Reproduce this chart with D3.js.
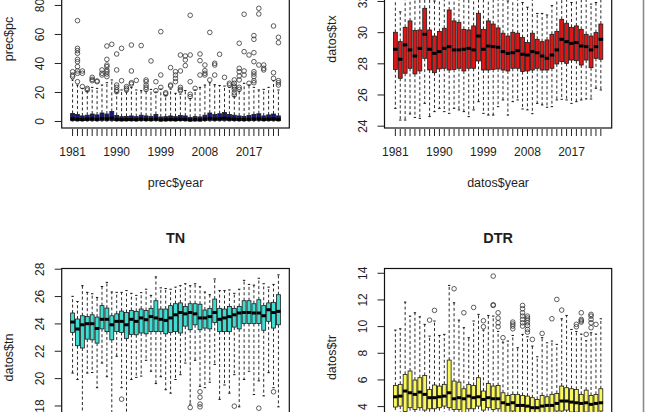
<!DOCTYPE html>
<html>
<head>
<meta charset="utf-8">
<script src="https://cdnjs.cloudflare.com/ajax/libs/d3/7.8.5/d3.min.js"></script>
<style>
	html, body { margin: 0; padding: 0; background: #fff; }
	svg { display: block; }
	text { font-family: "Liberation Sans", Arial, sans-serif; fill: #1e1e1e; }
</style>
</head>
<body>
<div class="graphic"></div>
<script>

var years = [1981, 1982, 1983, 1984, 1985, 1986, 1987, 1988, 1989, 1990,
	1991, 1992, 1993, 1994, 1995, 1996, 1997, 1998, 1999, 2000,
	2001, 2002, 2003, 2004, 2005, 2006, 2007, 2008, 2009, 2010,
	2011, 2012, 2013, 2014, 2015, 2016, 2017, 2018, 2019, 2020,
	2021, 2022, 2023];
var yearLabels = [1981, 1990, 1999, 2008, 2017];

// each row: lower whisker, Q1, median, Q3, upper whisker
var pcStats = [
	[0, 0.3, 1.5, 5.2, 28.3], [0, 0.2, 1.2, 4.5, 24.8], [0, 0.2, 1.0, 3.5, 22.5], [0, 0.3, 1.3, 4.0, 20.5],
	[0, 0.3, 1.5, 4.8, 23.2], [0, 0.2, 1.2, 4.2, 22.5], [0, 0.4, 1.8, 5.5, 24.8], [0, 0.3, 1.5, 4.8, 26.4],
	[0, 0.4, 2.0, 6.5, 28.3], [0, 0.2, 1.0, 3.8, 19.5], [0, 0.2, 0.9, 3.0, 21.4], [0, 0.2, 1.0, 3.2, 20.0],
	[0, 0.2, 1.1, 3.5, 23.2], [0, 0.2, 0.9, 3.0, 21.4], [0, 0.3, 1.3, 4.0, 20.9], [0, 0.2, 1.1, 3.5, 20.5],
	[0, 0.2, 1.0, 3.2, 21.8], [0, 0.3, 1.4, 4.5, 20.0], [0, 0.1, 0.8, 2.8, 22.0], [0, 0.2, 0.9, 3.0, 17.5],
	[0, 0.2, 1.1, 3.5, 22.0], [0, 0.2, 0.9, 3.0, 19.1], [0, 0.3, 1.2, 3.8, 18.5], [0, 0.2, 1.1, 3.5, 21.0],
	[0, 0.1, 0.7, 2.5, 15.5], [0, 0.2, 0.9, 3.0, 21.4], [0, 0.1, 0.8, 2.8, 23.2], [0, 0.3, 1.3, 4.0, 24.8],
	[0, 0.4, 1.8, 5.5, 26.4], [0, 0.3, 1.4, 4.5, 25.0], [0, 0.3, 1.6, 5.0, 24.5], [0, 0.4, 1.9, 5.8, 24.1],
	[0, 0.3, 1.4, 4.5, 23.2], [0, 0.3, 1.3, 4.0, 17.0], [0, 0.2, 1.1, 3.5, 20.5], [0, 0.2, 1.0, 3.2, 26.0],
	[0, 0.3, 1.2, 3.8, 24.8], [0, 0.3, 1.4, 4.5, 23.2], [0, 0.3, 1.6, 5.0, 21.4], [0, 0.2, 1.1, 3.5, 21.8],
	[0, 0.3, 1.3, 4.2, 23.2], [0, 0.3, 1.5, 4.8, 27.8], [0, 0.2, 1.1, 3.5, 21.4]
];
var pcOutliers = [
	[34.0, 31.7, 30.6], [69.2, 50.1, 48.5, 46.7, 42.5, 40.9, 37.5, 34.5, 32.9, 27.1], [34.5, 32.9, 23.7], [22.5, 21.4],
	[30.1, 28.7, 27.8], [27.6, 27.1], [35.2, 32.9, 31.7], [51.7, 42.5, 38.6, 37.5, 35.2, 34.0, 32.4, 30.6],
	[52.9], [46.2, 35.2, 24.8, 23.2, 21.4, 20.2], [50.1, 27.8], [23.7, 22.5, 21.4],
	[52.4, 34.5, 26.4, 25.5], [28.0], [52.0], [28.3, 27.1, 24.8, 23.2, 21.8],
	[41.4], [27.1, 20.9], [61.6, 31.7, 23.2], [19.5, 18.6],
	[36.8, 24.8, 24.1], [34.0, 31.7, 29.4, 27.1], [45.5, 34.5, 23.2, 21.8, 20.9], [44.8, 42.1, 38.2],
	[72.9, 45.5, 27.1, 18.4, 16.8], [22.5], [46.2, 41.6, 31.7], [38.6, 34.7, 32.9, 31.7],
	[61.1, 28.3], [39.8, 38.6, 31.7], [46.0], [30.1],
	[26.0, 24.8], [28.3, 26.0, 24.1, 23.2, 21.8, 19.5, 17.9], [53.6, 36.3, 34.0, 31.0, 28.3, 23.2, 21.8], [73.6, 47.8, 34.5, 31.7],
	[45.5, 26.0], [58.9, 56.3, 47.1, 40.9, 34.0, 32.4, 30.6, 27.8, 26.4], [77.7, 73.8, 38.6], [38.6, 36.3, 35.2],
	[], [65.5, 33.3, 29.4], [57.7, 54.0, 27.8, 26.4, 24.8]
];
var pcTicks = [0, 20, 40, 60, 80];

var txStats = [
	[25.11, 27.61, 28.90, 29.99, 32.6], [24.36, 27.04, 28.26, 29.39, 31.3], [24.36, 27.36, 29.18, 30.31, 32.5], [24.75, 27.68, 28.86, 30.72, 32.8],
	[24.53, 27.32, 28.47, 30.10, 32.4], [24.47, 27.51, 28.96, 30.14, 32.6], [25.43, 28.32, 29.86, 31.53, 33.5], [24.58, 27.57, 28.90, 30.14, 32.5],
	[24.90, 27.40, 28.64, 29.75, 32.0], [25.11, 27.64, 28.75, 30.04, 32.2], [24.90, 27.68, 28.96, 30.25, 32.6], [24.79, 27.57, 29.07, 31.42, 33.8],
	[25.11, 27.61, 28.86, 30.72, 32.9], [25.01, 27.68, 28.86, 30.63, 32.7], [24.90, 27.51, 28.90, 30.18, 32.4], [24.58, 27.68, 28.96, 30.14, 32.3],
	[25.01, 27.68, 28.86, 30.40, 32.5], [25.54, 28.15, 29.75, 31.21, 33.4], [24.79, 27.57, 28.90, 30.18, 32.3], [24.68, 27.57, 29.11, 30.72, 32.6],
	[24.68, 27.61, 29.07, 30.52, 32.5], [25.22, 27.64, 29.03, 30.27, 32.8], [25.65, 27.57, 28.75, 29.93, 32.3], [24.68, 27.51, 28.64, 29.75, 32.0],
	[25.54, 27.68, 28.68, 29.99, 32.2], [25.65, 27.68, 28.81, 29.93, 32.4], [25.07, 27.47, 28.58, 29.65, 31.9], [25.01, 27.51, 28.53, 29.33, 31.6],
	[24.77, 27.57, 28.75, 29.93, 32.1], [25.43, 27.68, 28.68, 29.54, 31.2], [25.33, 27.57, 28.47, 29.39, 31.2], [25.18, 27.57, 28.32, 29.50, 31.1],
	[25.22, 27.68, 28.53, 29.86, 31.7], [25.65, 27.96, 28.86, 30.04, 32.3], [25.69, 28.11, 29.54, 30.82, 32.8], [25.65, 28.00, 29.39, 30.57, 32.9],
	[25.43, 28.21, 29.28, 30.31, 31.9], [25.54, 28.17, 29.33, 30.40, 32.5], [25.65, 27.89, 29.11, 30.18, 32.7], [25.71, 28.21, 29.07, 29.86, 32.4],
	[25.71, 27.72, 28.86, 29.75, 31.8], [26.40, 28.32, 29.07, 29.97, 31.9], [26.29, 28.26, 29.54, 30.52, 32.6]
];
var txTicks = [24, 26, 28, 30, 32];

var tnStats = [
	[20.37, 23.34, 24.10, 24.76, 25.98], [19.90, 22.37, 23.59, 24.32, 25.60], [17.20, 22.20, 23.90, 24.56, 26.76], [20.37, 22.85, 23.98, 24.50, 26.27],
	[20.41, 22.80, 23.98, 24.63, 26.17], [19.30, 22.56, 23.63, 24.46, 25.90], [21.10, 23.60, 24.30, 25.30, 26.70], [20.10, 23.40, 24.30, 25.12, 27.00],
	[17.00, 22.80, 23.90, 24.56, 26.30], [21.60, 23.40, 24.15, 24.70, 26.27], [19.30, 23.34, 24.15, 24.90, 26.27], [17.00, 22.90, 23.90, 24.80, 26.40],
	[19.90, 23.20, 24.30, 24.95, 26.20], [20.05, 23.17, 24.15, 24.88, 26.05], [20.15, 23.30, 24.40, 25.05, 26.25], [21.30, 23.24, 24.27, 24.95, 26.50],
	[20.50, 23.40, 24.50, 25.10, 26.05], [19.60, 23.40, 24.40, 25.66, 27.40], [20.10, 23.40, 24.30, 25.05, 26.60], [19.15, 23.24, 24.22, 25.05, 26.55],
	[18.90, 23.34, 24.40, 25.30, 26.50], [19.90, 23.40, 24.63, 25.44, 26.65], [20.25, 23.30, 24.80, 25.50, 26.76], [21.10, 23.80, 24.70, 25.24, 26.90],
	[18.10, 23.54, 24.80, 25.44, 26.76], [21.30, 23.90, 24.70, 25.44, 26.90], [19.40, 23.54, 24.40, 25.40, 26.68], [19.30, 23.66, 24.40, 24.98, 26.30],
	[19.70, 23.60, 24.50, 25.10, 26.10], [21.00, 24.07, 24.80, 25.78, 27.25], [18.45, 23.40, 24.30, 25.10, 26.40], [19.50, 23.40, 24.40, 25.05, 26.40],
	[18.90, 23.40, 24.50, 25.24, 26.45], [20.25, 23.73, 24.63, 25.10, 26.20], [17.90, 23.60, 24.76, 25.24, 26.50], [19.90, 24.00, 24.80, 25.66, 27.15],
	[20.50, 24.00, 24.80, 25.66, 26.85], [18.80, 23.98, 24.76, 25.44, 26.80], [19.80, 24.00, 24.76, 25.73, 27.30], [18.70, 23.50, 24.56, 25.30, 26.90],
	[20.40, 24.15, 25.00, 25.50, 26.65], [19.30, 23.66, 24.80, 25.54, 26.85], [17.90, 23.90, 24.88, 26.10, 27.55]
];
var tnOutliers = [
	[], [], [], [], [], [], [], [], [], [], [18.46], [], [], [], [], [], [], [], [], [], [], [], [], [],
	[17.85], [], [19.0, 18.6, 18.1, 17.9], [], [], [], [], [], [], [17.95], [], [], [], [], [17.8], [], [], [19.0], []
];
var tnTicks = [18, 20, 22, 24, 26, 28];

var trStats = [
	[2.2, 3.93, 4.70, 5.55, 9.70], [2.4, 4.00, 4.75, 5.63, 9.80], [2.0, 3.60, 5.13, 6.38, 11.80], [2.1, 3.88, 5.00, 6.63, 10.75],
	[2.0, 3.75, 4.88, 5.95, 11.00], [2.3, 3.88, 5.05, 6.13, 10.70], [1.9, 3.70, 4.88, 6.30, 10.13], [2.2, 3.80, 4.63, 5.25, 9.25],
	[2.0, 3.80, 4.63, 5.58, 10.38], [2.3, 3.88, 4.70, 5.50, 9.30], [2.4, 4.00, 4.75, 5.63, 9.38], [2.1, 3.88, 5.00, 7.45, 13.05],
	[2.0, 3.75, 4.55, 5.88, 11.75], [2.2, 3.75, 4.63, 5.80, 10.45], [1.8, 3.50, 4.55, 5.30, 9.88], [2.3, 3.80, 4.75, 5.63, 9.13],
	[2.0, 3.80, 4.63, 5.55, 10.38], [2.4, 4.00, 4.70, 6.13, 10.88], [1.9, 3.70, 4.50, 5.13, 9.70], [2.2, 3.88, 4.63, 5.70, 10.80],
	[2.0, 3.75, 4.55, 5.50, 10.75], [2.1, 3.80, 4.55, 5.55, 9.60], [1.8, 3.50, 4.25, 5.00, 8.80], [1.7, 3.40, 4.13, 4.80, 8.88],
	[2.0, 3.63, 4.25, 4.88, 9.30], [1.8, 3.50, 4.05, 4.88, 8.38], [1.7, 3.50, 4.05, 4.80, 9.38], [1.8, 3.50, 4.00, 4.75, 9.20],
	[2.0, 3.50, 3.88, 4.63, 8.50], [1.9, 3.50, 3.88, 4.50, 7.70], [1.8, 3.50, 4.00, 4.80, 9.13], [1.9, 3.50, 4.05, 4.70, 8.75],
	[1.8, 3.50, 4.05, 4.88, 8.88], [2.0, 3.63, 4.20, 4.95, 8.63], [2.2, 3.63, 4.38, 5.50, 10.55], [2.1, 3.70, 4.38, 5.38, 10.80],
	[1.9, 3.55, 4.30, 5.30, 9.75], [2.0, 3.55, 4.25, 5.25, 9.60], [1.8, 3.50, 4.20, 4.88, 9.40], [2.0, 3.55, 4.25, 5.20, 8.90],
	[1.8, 3.50, 4.13, 4.80, 9.50], [1.9, 3.50, 4.20, 4.88, 9.40], [2.0, 3.63, 4.25, 5.30, 10.55]
];
var trOutliers = [
	[], [], [], [], [], [], [], [10.45], [11.18], [], [], [], [12.8], [], [11.0], [], [11.4], [], [10.4, 9.95], [],
	[13.75, 11.6, 11.55], [11.0, 10.6, 10.25, 9.95], [9.13], [], [10.3, 10.15, 10.0, 9.8], [],
	[11.55, 11.3, 11.0, 10.75, 10.5, 10.25, 10.0], [10.75, 10.6, 10.45, 10.25, 10.05, 9.75, 9.55],
	[9.0], [], [9.45], [], [10.55], [12.0], [11.2], [], [], [10.13, 9.95], [11.0, 10.5, 10.4, 10.3], [9.38],
	[10.88, 10.75, 10.5, 10.25, 9.88], [10.13], []
];
var trTicks = [4, 6, 8, 10, 12, 14];

var width = 645, height = 412;
var svg = d3.select('.graphic').append('svg').attr('width', width).attr('height', height);

// panel geometry; the picture is a crop, so parts of the frames run past its edges
var panels = [
	{ stats: pcStats, out: pcOutliers, ticks: pcTicks, fill: '#17178a', xLabel: 'prec$year', yLabel: 'prec$pc', title: '',
		left: 61.7, right: 289.3, top: -50, bottom: 128, usr: [-4.83, 117.9] },
	{ stats: txStats, out: null, ticks: txTicks, fill: '#dc1717', xLabel: 'datos$year', yLabel: 'datos$tx', title: '',
		left: 384.5, right: 611.7, top: -50, bottom: 128, usr: [23.85, 35.27] },
	{ stats: tnStats, out: tnOutliers, ticks: tnTicks, fill: '#3fdcd2', xLabel: '', yLabel: 'datos$tn', title: 'TN',
		left: 61.7, right: 289.3, top: 268.5, bottom: 446.5, usr: [15.0, 28.015] },
	{ stats: trStats, out: trOutliers, ticks: trTicks, fill: '#f8f75c', xLabel: '', yLabel: 'datos$tr', title: 'DTR',
		left: 384.5, right: 611.7, top: 268.5, bottom: 446.5, usr: [0.97, 14.32] }
];

panels.forEach(function (p) {

	var x = d3.scaleBand().domain(years).range([p.left, p.right]).paddingInner(0.2).paddingOuter(1.82);
	var y = d3.scaleLinear().domain(p.usr).range([p.bottom, p.top]);
	var bw = x.bandwidth();
	var cx = function (d, i) { return x(years[i]) + bw / 2; };

	var g = svg.append('g');

	var boxes = g.selectAll('.box')
		.data(p.stats)
		.enter().append('g')
		.attr('class', 'box');

	// dashed whiskers
	boxes.append('line')
		.attr('x1', cx).attr('x2', cx)
		.attr('y1', function (d) { return y(d[3]); })
		.attr('y2', function (d) { return y(d[4]); })
		.attr('stroke', '#111').attr('stroke-width', 0.9)
		.attr('stroke-dasharray', '3,2.4');
	boxes.append('line')
		.attr('x1', cx).attr('x2', cx)
		.attr('y1', function (d) { return y(d[1]); })
		.attr('y2', function (d) { return y(d[0]); })
		.attr('stroke', '#111').attr('stroke-width', 0.9)
		.attr('stroke-dasharray', '3,2.4');

	// staples
	[0, 4].forEach(function (k) {
		boxes.append('line')
			.attr('x1', function (d, i) { return cx(d, i) - bw * 0.3; })
			.attr('x2', function (d, i) { return cx(d, i) + bw * 0.3; })
			.attr('y1', function (d) { return y(d[k]); })
			.attr('y2', function (d) { return y(d[k]); })
			.attr('stroke', '#111').attr('stroke-width', 1);
	});

	boxes.append('rect')
		.attr('x', function (d, i) { return x(years[i]); })
		.attr('width', bw)
		.attr('y', function (d) { return y(d[3]); })
		.attr('height', function (d) { return y(d[1]) - y(d[3]); })
		.attr('fill', p.fill)
		.attr('stroke', '#1a1a1a')
		.attr('stroke-width', 0.8);

	// median
	boxes.append('line')
		.attr('x1', function (d, i) { return x(years[i]) - 0.3; })
		.attr('x2', function (d, i) { return x(years[i]) + bw + 0.3; })
		.attr('y1', function (d) { return y(d[2]); })
		.attr('y2', function (d) { return y(d[2]); })
		.attr('stroke', '#000').attr('stroke-width', 3);

	if (p.out) {
		var points = [];
		p.out.forEach(function (vals, i) {
			vals.forEach(function (v) { points.push({ year: years[i], v: v }); });
		});
		g.selectAll('.outlier')
			.data(points)
			.enter().append('circle')
			.attr('class', 'outlier')
			.attr('cx', function (d) { return x(d.year) + bw / 2; })
			.attr('cy', function (d) { return y(d.v); })
			.attr('r', 2.3)
			.attr('fill', 'none')
			.attr('stroke', '#333')
			.attr('stroke-width', 0.8);
	}

	// frame
	g.append('rect')
		.attr('x', p.left).attr('y', p.top)
		.attr('width', p.right - p.left).attr('height', p.bottom - p.top)
		.attr('fill', 'none').attr('stroke', '#111').attr('stroke-width', 1.2);

	// x axis only where it falls inside the picture
	if (p.bottom < height) {
		var xAxis = g.append('g')
			.attr('transform', 'translate(0,' + (p.bottom + 1) + ')')
			.call(d3.axisBottom(x).tickSize(7).tickPadding(11.5).tickFormat(function (d) {
				return yearLabels.indexOf(d) >= 0 ? d : '';
			}));
		xAxis.select('.domain').remove();
		xAxis.selectAll('line').attr('stroke', '#222');
		xAxis.selectAll('text').attr('font-size', '12px').attr('fill', '#1e1e1e');

		g.append('text')
			.attr('x', (p.left + p.right) / 2)
			.attr('y', p.bottom + 59)
			.attr('text-anchor', 'middle')
			.attr('font-size', '12.5px')
			.text(p.xLabel);
	}

	// y axis with rotated labels
	var yAxis = g.append('g')
		.attr('transform', 'translate(' + p.left + ',0)')
		.call(d3.axisLeft(y).tickValues(p.ticks).tickSize(7).tickFormat(d3.format('d')));
	yAxis.select('.domain').remove();
	yAxis.selectAll('line').attr('stroke', '#222');
	yAxis.selectAll('text')
		.attr('transform', 'rotate(-90)')
		.attr('x', 0).attr('y', -17.7).attr('dy', 0)
		.attr('text-anchor', 'middle')
		.attr('font-size', '12px').attr('fill', '#1e1e1e');

	g.append('text')
		.attr('transform', 'translate(' + (p.left - 48.5) + ',' + ((p.top + p.bottom) / 2) + ') rotate(-90)')
		.attr('text-anchor', 'middle')
		.attr('font-size', '12.5px')
		.text(p.yLabel);

	if (p.title) {
		g.append('text')
			.attr('x', (p.left + p.right) / 2)
			.attr('y', p.top - 25.3)
			.attr('text-anchor', 'middle')
			.attr('font-size', '14.4px')
			.attr('font-weight', 'bold')
			.text(p.title);
	}
});

// grey window edge on the right
svg.append('line')
	.attr('x1', 643.5).attr('x2', 643.5)
	.attr('y1', 0).attr('y2', height)
	.attr('stroke', '#8a8a8a').attr('stroke-width', 1.6);

</script>
</body>
</html>
